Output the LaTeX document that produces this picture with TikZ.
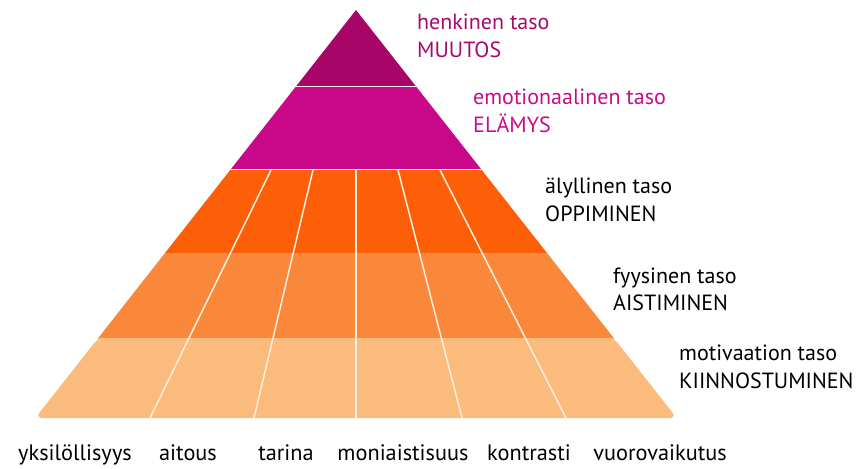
\documentclass[tikz,border=0pt]{standalone}
\usepackage{fontspec}
\setmainfont{PT Sans}
\definecolor{bandA}{RGB}{168,5,105}
\definecolor{bandB}{RGB}{200,8,137}
\definecolor{bandC}{RGB}{252,95,8}
\definecolor{bandD}{RGB}{250,136,58}
\definecolor{bandE}{RGB}{251,187,124}
\definecolor{seam}{RGB}{253,238,222}
\definecolor{txtA}{RGB}{165,10,108}
\definecolor{txtB}{RGB}{200,12,140}
\tikzset{
  lbl/.style={anchor=base west, inner sep=0pt, font=\fontsize{22}{24}\selectfont},
  blbl/.style={anchor=base, inner sep=0pt, font=\fontsize{22.3}{24}\selectfont},
  divider/.style={draw=seam, line width=1.5pt},
  bandsep/.style={draw=seam!70!white, line width=0.8pt}
}
\begin{document}
\begin{tikzpicture}[x=1pt,y=-1pt]
\useasboundingbox (0,0) rectangle (866,468);
% bands
\fill[bandA] (356,10) -- (415.7,86) -- (296.3,86) -- cycle;
\fill[bandB] (296.3,86) -- (415.7,86) -- (481,169) -- (231,169) -- cycle;
\fill[bandC] (231,169) -- (481,169) -- (547,253) -- (165,253) -- cycle;
\fill[bandD] (165,253) -- (547,253) -- (613.8,338) -- (98.2,338) -- cycle;
\fill[bandE, rounded corners=7pt] (98.2,338) -- (613.8,338) -- (676.7,418) -- (35.3,418) -- cycle;
\fill[bandE] (98.2,338) rectangle (613.8,345);
% separators
\coordinate (s1l) at (296.3,86); \coordinate (s1r) at (415.7,86);
\coordinate (s2l) at (231,169); \coordinate (s2r) at (481,169);
\draw[bandsep] (s1l) -- (s1r);
\draw[bandsep] (s2l) -- (s2r);
% dividers
\coordinate (t1) at (271,170); \coordinate (b1) at (150,418);
\coordinate (t2) at (313,170); \coordinate (b2) at (254,418);
\coordinate (t3) at (356,170); \coordinate (b3) at (356,418);
\coordinate (t4) at (398,170); \coordinate (b4) at (462,418);
\coordinate (t5) at (440,170); \coordinate (b5) at (566,418);
\draw[divider] (t1) -- (b1);
\draw[divider] (t2) -- (b2);
\draw[divider] (t3) -- (b3);
\draw[divider] (t4) -- (b4);
\draw[divider] (t5) -- (b5);
% right labels
\node[lbl, text=txtA] (l1a) at (417,30) {henkinen taso};
\node[lbl, text=txtA] (l1b) at (417,58) {MUUTOS};
\node[lbl, text=txtB] (l2a) at (473,105) {emotionaalinen taso};
\node[lbl, text=txtB] (l2b) at (473,132) {ELÄMYS};
\node[lbl] (l3a) at (545,193) {älyllinen taso};
\node[lbl] (l3b) at (545,221) {OPPIMINEN};
\node[lbl] (l4a) at (613,283) {fyysinen taso};
\node[lbl] (l4b) at (613,310) {AISTIMINEN};
\node[lbl] (l5a) at (679,360) {motivaation taso};
\node[lbl] (l5b) at (679,388) {KIINNOSTUMINEN};
% bottom labels
\node[blbl] (c1) at (75,460) {yksilöllisyys};
\node[blbl] (c2) at (188,460) {aitous};
\node[blbl] (c3) at (286,460) {tarina};
\node[blbl] (c4) at (403,460) {moniaistisuus};
\node[blbl] (c5) at (529,460) {kontrasti};
\node[blbl] (c6) at (660,460) {vuorovaikutus};
\end{tikzpicture}
\end{document}
